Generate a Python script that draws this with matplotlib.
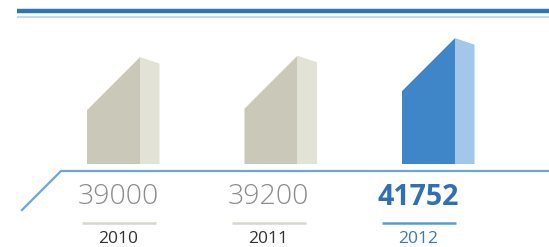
import matplotlib
matplotlib.use("Agg")
import matplotlib.pyplot as plt
from matplotlib.patches import Polygon
from matplotlib import font_manager

years = ["2010", "2011", "2012"]
values = [39000, 39200, 41752]
highlight = [False, False, True]

W, H = 549, 247
fig = plt.figure(figsize=(W / 100, H / 100), dpi=100)
fig.patch.set_facecolor("white")

# decoration axes in pixel space
deco = fig.add_axes([0, 0, 1, 1])
deco.set_xlim(0, W)
deco.set_ylim(H, 0)
deco.axis("off")

# top double rule
deco.plot([17, W], [11.5, 11.5], color="#2e74b8", lw=3.2, solid_capstyle="butt")
deco.plot([17, W], [17, 17], color="#c2daf1", lw=1.6, solid_capstyle="butt")
# baseline with diagonal
deco.plot([22, 61, W], [210, 171, 171], color="#6aa5dc", lw=1.6)

fams = [f.name for f in font_manager.fontManager.ttflist]
fam = "Open Sans" if "Open Sans" in fams else "DejaVu Sans"

for i, (yr, v, hl) in enumerate(zip(years, values, highlight)):
    cx = 118.5 + 150 * i
    num_col = "#2f6fb6" if hl else "#8c8c8c"
    deco.text(cx, 197, f"{v}", ha="center", va="center", fontsize=20.5,
              family=fam, weight="bold" if hl else "light", color=num_col)
    deco.plot([cx - 37, cx + 37], [223, 223],
              color="#5b9bd5" if hl else "#d9d7cc", lw=1.8, solid_capstyle="butt")
    deco.text(cx, 239, yr, ha="center", va="center", fontsize=12.5,
              family=fam, color="#3a78bd" if hl else "#333333")

# bar axes: data-driven 3D-ish bars
bottom_px = 164
top_px = 20
base = 23500
per_px = 145.0
bax = fig.add_axes([0, (H - bottom_px) / H, 1, (bottom_px - top_px) / H])
bax.set_ylim(base, base + (bottom_px - top_px) * per_px)
u = 157.5
bax.set_xlim(-113.5 / u, (W - 113.5) / u)
bax.axis("off")

half = 26.5 / u
side = 19.5 / u
slant = 53 * per_px
side_drop = 6.5 * per_px

for i, (v, hl) in enumerate(zip(values, highlight)):
    front_c = "#3f86c8" if hl else "#cac8b9"
    side_c = "#a3c7ea" if hl else "#e3e2d6"
    x0, x1, x2 = i - half, i + half, i + half + side
    front = Polygon([(x0, base), (x1, base), (x1, v), (x0, v - slant)],
                    closed=True, facecolor=front_c, edgecolor="none")
    sidep = Polygon([(x1, base), (x2, base), (x2, v - side_drop), (x1, v)],
                    closed=True, facecolor=side_c, edgecolor="none")
    bax.add_patch(front)
    bax.add_patch(sidep)

fig.savefig("out.png", dpi=100, facecolor="white")
